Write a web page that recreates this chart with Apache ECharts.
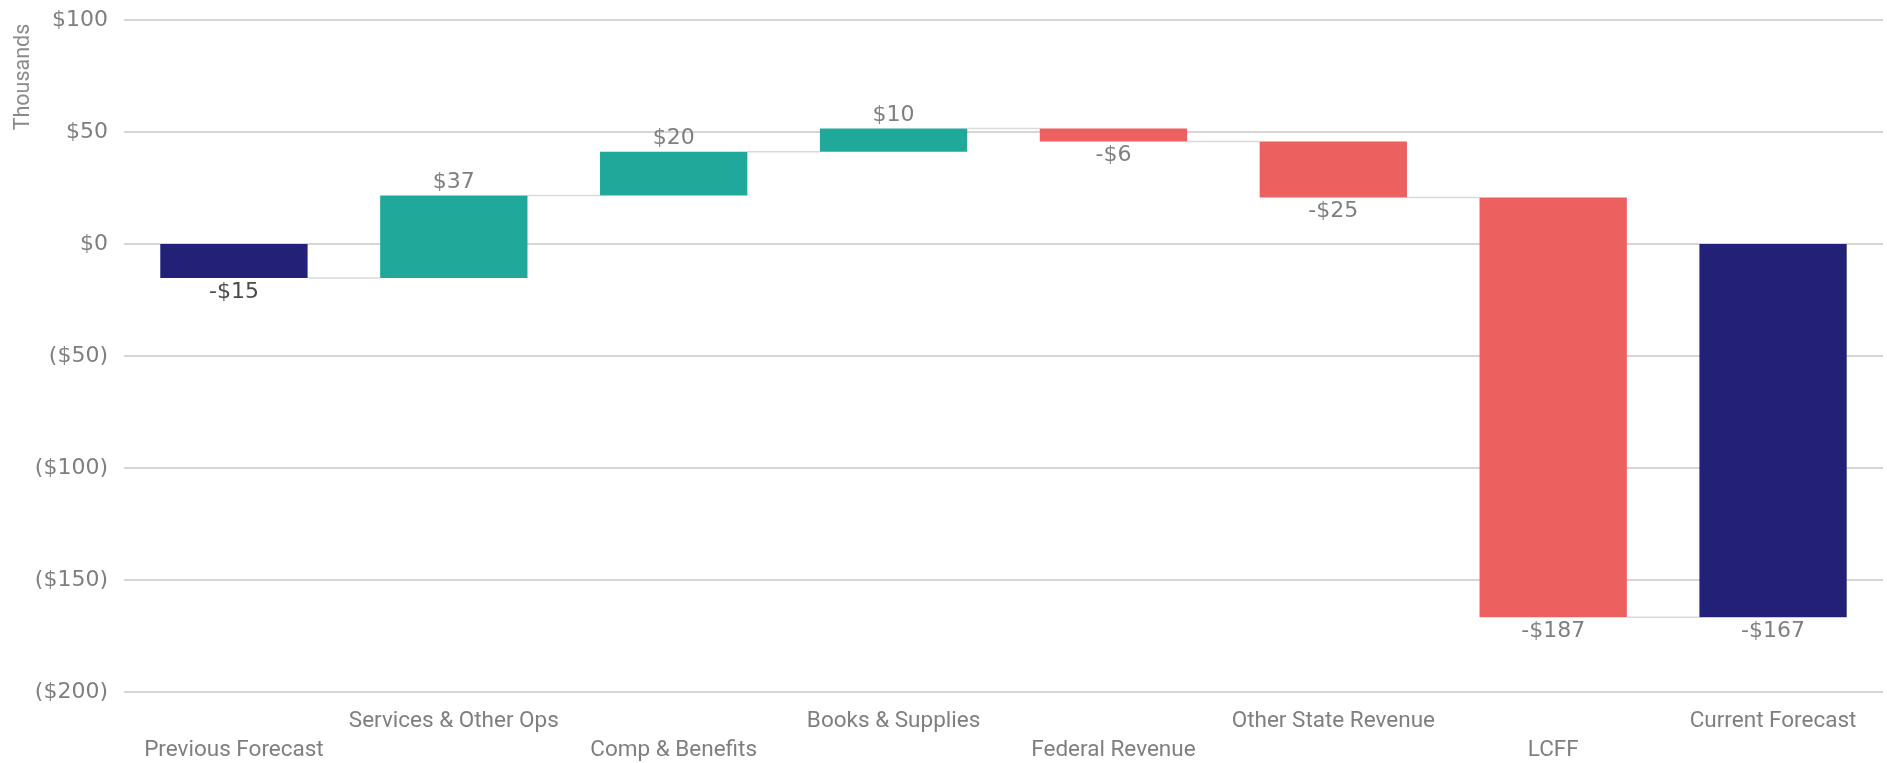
<!DOCTYPE html>
<html>
<head>
<meta charset="utf-8">
<script src="https://cdn.jsdelivr.net/npm/echarts@6/dist/echarts.min.js"></script>
<style>
  html, body { margin: 0; padding: 0; background: #fff; }
  #chart { width: 1887px; height: 763px; }
</style>
</head>
<body>
<div id="chart"></div>
<script>
// data (thousands)
const categories = ['Previous Forecast', 'Services & Other Ops', 'Comp & Benefits', 'Books & Supplies',
  'Federal Revenue', 'Other State Revenue', 'LCFF', 'Current Forecast'];
const startValue = -15.2;
const changes = [36.8, 19.6, 10.4, -5.8, -25.0, -187.4];
const yMin = -200, yMax = 100, yStep = 50;

const colors = ['#222077', '#20A99A', '#EC605F'];  // total, up, down

// build waterfall rows: [index, low, high, value, kind]
const rows = [];
const levels = [];
let run = startValue;
rows.push([0, Math.min(0, run), Math.max(0, run), run, 0]);
levels.push(run);
changes.forEach((c, k) => {
  const prev = run;
  run = run + c;
  rows.push([k + 1, Math.min(prev, run), Math.max(prev, run), c, c >= 0 ? 1 : 2]);
  levels.push(run);
});
rows.push([categories.length - 1, Math.min(0, run), Math.max(0, run), run, 0]);
const connectors = levels.map((lv, i) => [i, lv]);

const fmtMoney = v => {
  const r = Math.round(v);
  return r < 0 ? '-$' + Math.abs(r) : '$' + r;
};
const barRatio = 0.67;

const chart = echarts.init(document.getElementById('chart'));
chart.setOption({
  animation: false,
  grid: { left: 124, right: 4, top: 20, bottom: 71, outerBoundsMode: 'none', containLabel: false },
  graphic: [{
    type: 'text',
    x: 24, y: 77,
    rotation: Math.PI / 2,
    style: {
      text: 'Thousands', fill: '#8a8a8a', font: '21.5px Roboto',
      align: 'center', verticalAlign: 'middle'
    }
  }],
  xAxis: {
    type: 'category',
    data: categories,
    axisLine: { show: false },
    axisTick: { show: false },
    axisLabel: {
      interval: 0,
      margin: 15,
      color: '#7f7f7f',
      fontFamily: 'Roboto',
      fontSize: 22.5,
      lineHeight: 29,
      formatter: (v, i) => i % 2 === 0 ? '\n' + v : v
    }
  },
  yAxis: {
    type: 'value',
    min: yMin, max: yMax, interval: yStep,
    axisLine: { show: false },
    axisTick: { show: false },
    splitLine: { lineStyle: { color: '#c8c8c8', width: 1.5 } },
    axisLabel: {
      margin: 16,
      color: '#7f7f7f',
      fontFamily: 'DejaVu Sans',
      fontSize: 22,
      formatter: v => v < 0 ? '($' + (-v) + ')' : '$' + v
    }
  },
  series: [
    {
      type: 'custom',
      data: connectors,
      renderItem: (params, api) => {
        const i = api.value(0);
        if (i >= categories.length - 1) return;
        const w = api.size([1, 0])[0] * barRatio;
        const a = api.coord([i, api.value(1)]);
        const b = api.coord([i + 1, api.value(1)]);
        return {
          type: 'line',
          shape: { x1: a[0] + w / 2, y1: a[1], x2: b[0] - w / 2, y2: b[1] },
          style: { stroke: '#dadada', lineWidth: 1.5 }
        };
      },
      z: 1
    },
    {
      type: 'custom',
      data: rows,
      renderItem: (params, api) => {
        const i = api.value(0);
        const low = api.value(1), high = api.value(2), v = api.value(3), kind = api.value(4);
        const w = api.size([1, 0])[0] * barRatio;
        const pTop = api.coord([i, high]);
        const pBot = api.coord([i, low]);
        const up = v >= 0;
        return {
          type: 'group',
          children: [
            {
              type: 'rect',
              shape: { x: pTop[0] - w / 2, y: pTop[1], width: w, height: pBot[1] - pTop[1] },
              style: { fill: colors[kind] }
            },
            {
              type: 'text',
              style: {
                text: fmtMoney(v),
                x: pTop[0],
                y: up ? pTop[1] - 2 : pBot[1] + 3,
                align: 'center',
                verticalAlign: up ? 'bottom' : 'top',
                fill: i === 0 ? '#4a4a4a' : '#7f7f7f',
                font: '22px "DejaVu Sans"'
              }
            }
          ]
        };
      },
      z: 2
    }
  ]
});
</script>
</body>
</html>
